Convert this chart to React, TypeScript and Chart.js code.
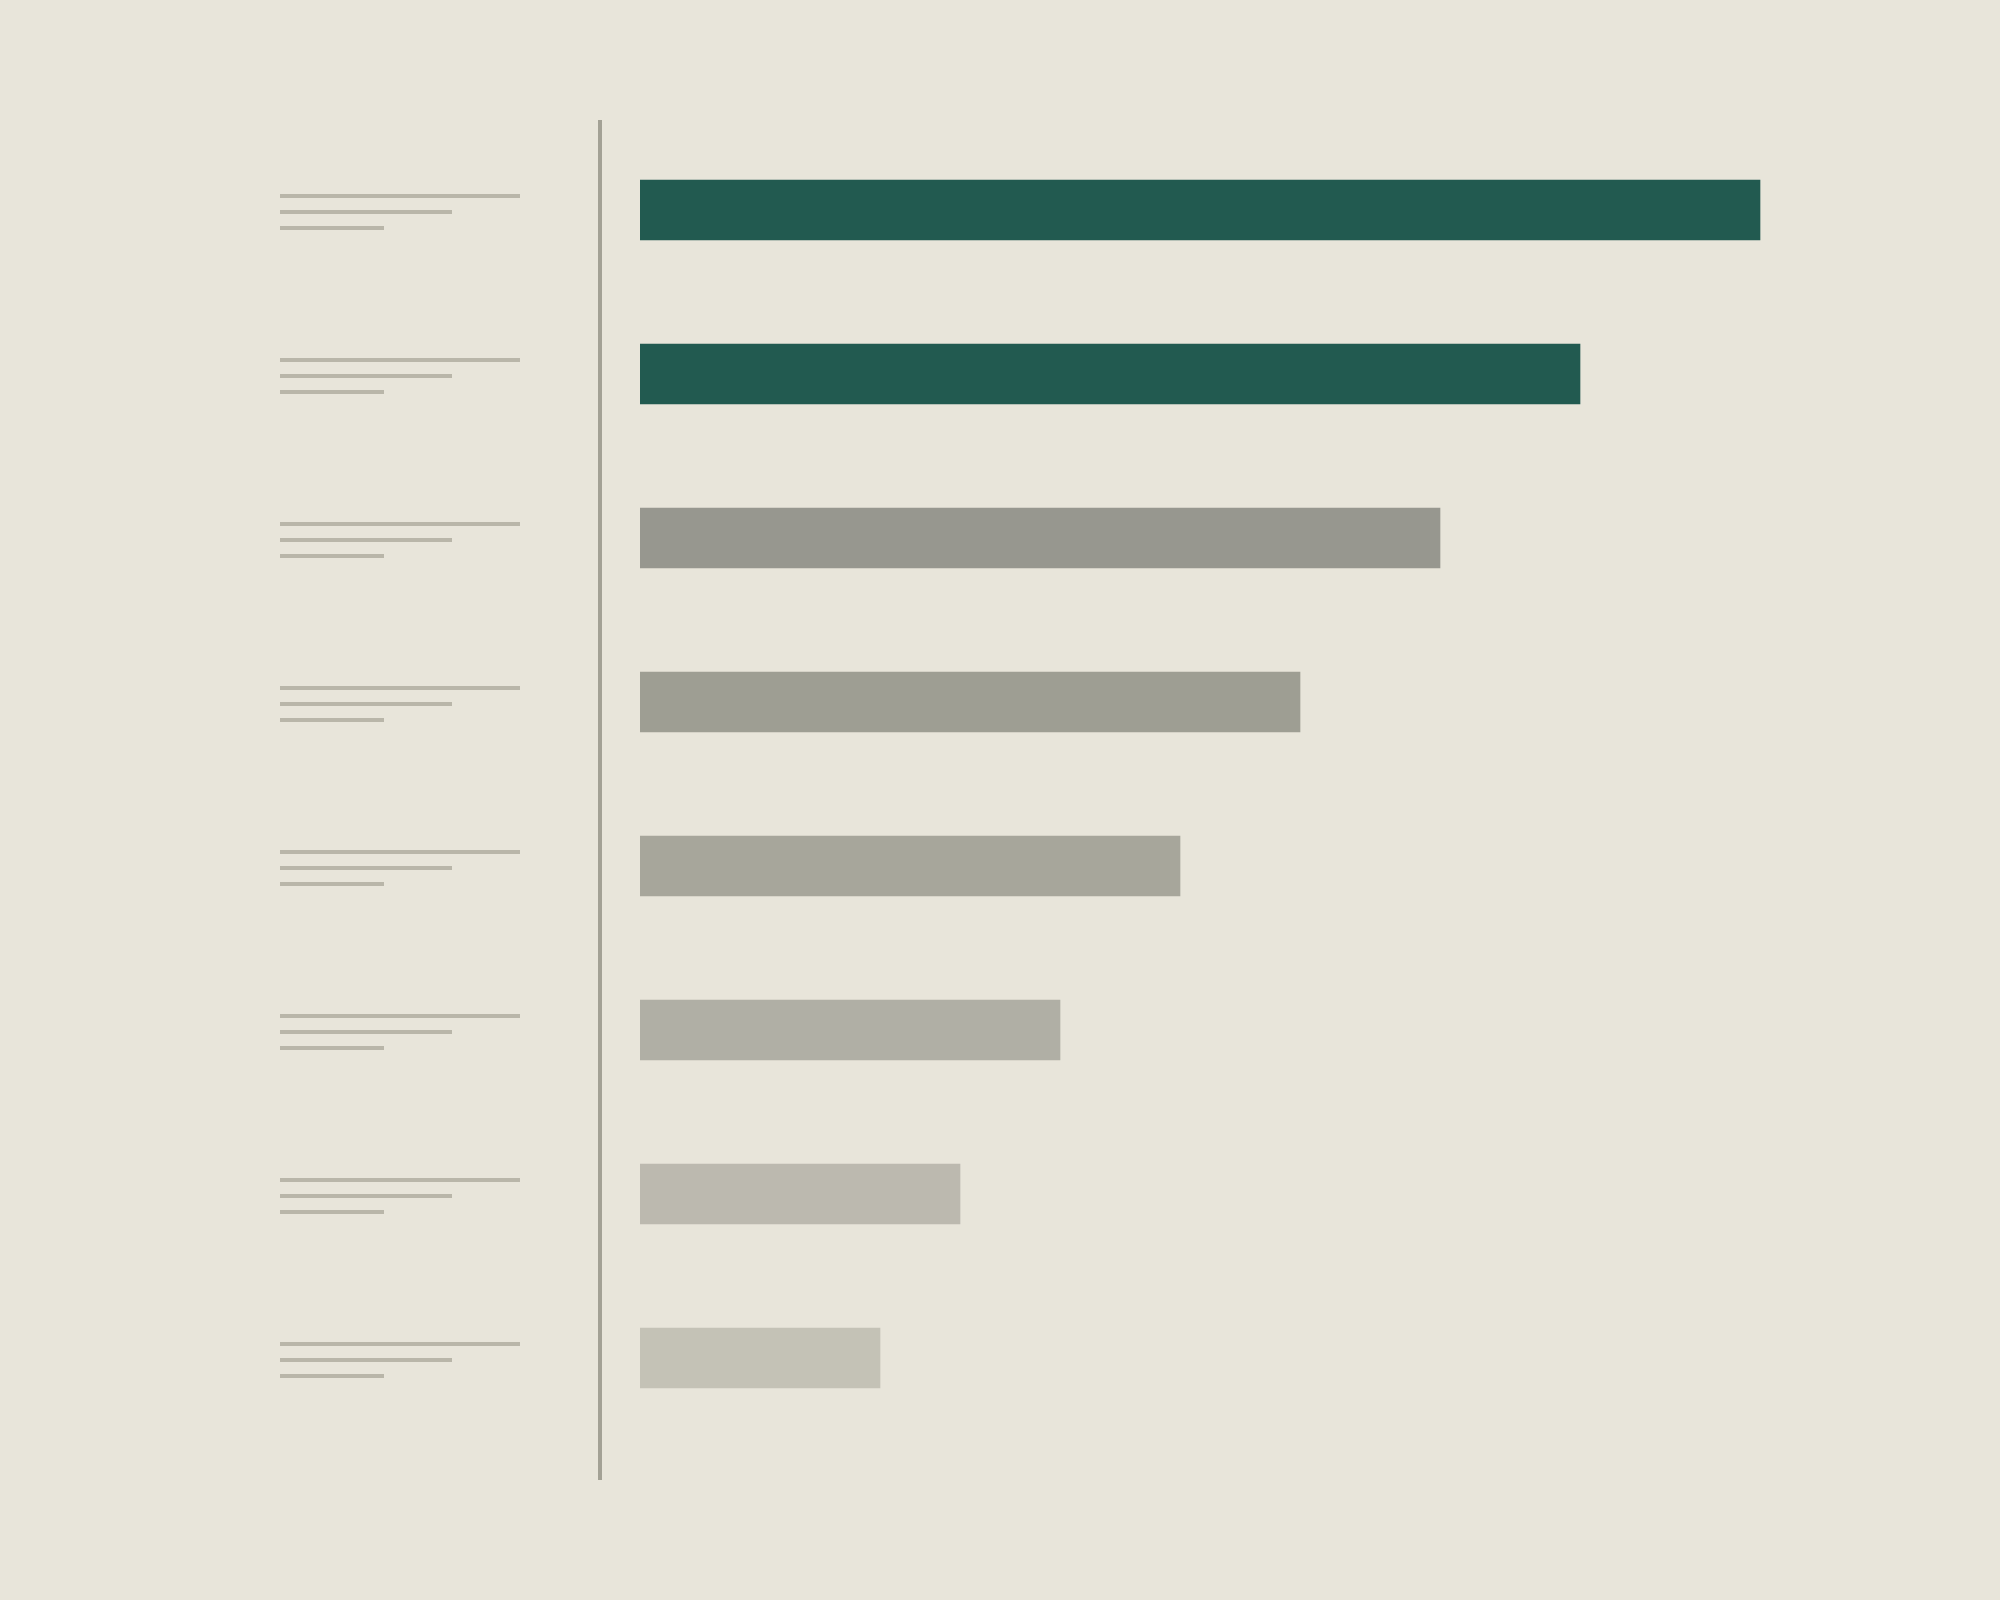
import React, { useEffect, useRef } from "react";
import { Chart, registerables } from "chart.js";

Chart.register(...registerables);

const categories = ["A", "B", "C", "D", "E", "F", "G", "H"];
const values = [56, 47, 40, 33, 27, 21, 16, 12];
const barColors = ["#225a50", "#225a50", "#97978f", "#9e9e93", "#a7a69b", "#b0afa5", "#bcb9af", "#c4c2b6"];
const labelLineWidths = [240, 172, 104];
const X_MAX = 60;

const BG = "#e8e5da";

const decorPlugin = {
  id: "decor",
  afterDatasetsDraw(chart: any) {
    const { ctx, chartArea, scales } = chart;
    ctx.save();
    // vertical axis line
    ctx.fillStyle = "#a3a195";
    ctx.fillRect(chartArea.left - 42, chartArea.top - 8, 4, chartArea.bottom - chartArea.top + 48);
    // placeholder label lines
    ctx.fillStyle = "#b9b6a9";
    categories.forEach((_, i) => {
      const cy = scales.y.getPixelForValue(i);
      labelLineWidths.forEach((w, j) => {
        const y = cy - 16 + j * 16;
        ctx.fillRect(chartArea.left - 360, y, w, 4);
      });
    });
    ctx.restore();
  },
};

export default function App() {
  const ref = useRef<HTMLCanvasElement>(null);
  useEffect(() => {
    document.body.style.margin = "0";
    document.body.style.background = BG;
    const chart = new Chart(ref.current!, {
      type: "bar",
      data: {
        labels: categories,
        datasets: [
          {
            data: values,
            backgroundColor: barColors,
            borderWidth: 0,
            barThickness: 60,
          },
        ],
      },
      options: {
        indexAxis: "y",
        animation: false,
        responsive: false,
        devicePixelRatio: 1,
        layout: { padding: { left: 640, right: 160, top: 128, bottom: 160 } },
        plugins: { legend: { display: false }, tooltip: { enabled: false } },
        scales: {
          x: { display: false, min: 0, max: X_MAX },
          y: { display: false, offset: true },
        },
      },
      plugins: [decorPlugin],
    });
    return () => chart.destroy();
  }, []);
  return (
    <div style={{ position: "fixed", left: 0, top: 0, width: 2000, height: 1600, background: BG }}>
      <canvas ref={ref} width={2000} height={1600} style={{ width: 2000, height: 1600, display: "block" }} />
    </div>
  );
}
